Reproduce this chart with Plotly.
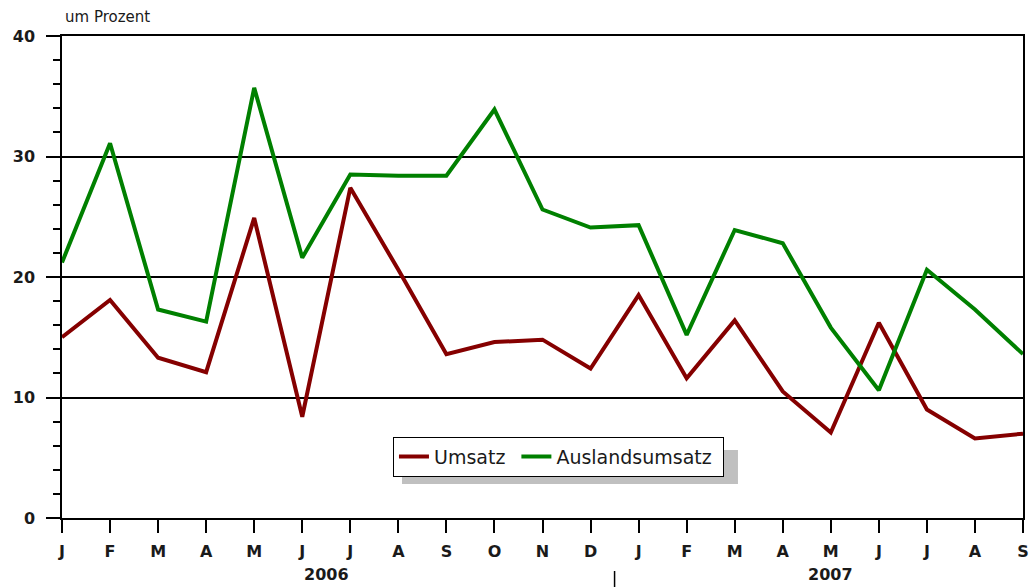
import plotly.graph_objects as go

months = ["J", "F", "M", "A", "M", "J", "J", "A", "S", "O", "N", "D",
          "J", "F", "M", "A", "M", "J", "J", "A", "S"]
umsatz = [15.0, 18.1, 13.3, 12.1, 24.9, 8.4, 27.4, 20.6, 13.6, 14.6, 14.8, 12.4,
          18.5, 11.6, 16.4, 10.5, 7.1, 16.2, 9.0, 6.6, 7.0]
ausland = [21.2, 31.1, 17.3, 16.3, 35.7, 21.6, 28.5, 28.4, 28.4, 33.9, 25.6, 24.1,
           24.3, 15.2, 23.9, 22.8, 15.8, 10.6, 20.6, 17.3, 13.6]
years = ["2006", "2007"]
year_centers = [5.5, 16]
year_split = 11.5
y_ticks = [0, 10, 20, 30, 40]

x = list(range(len(months)))
FONT = "DejaVu Sans"
TXT = "#1a1a1a"

fig = go.Figure()
fig.add_trace(go.Scatter(x=x, y=umsatz, mode="lines", name="Umsatz ",
                         line=dict(color="#850000", width=4)))
fig.add_trace(go.Scatter(x=x, y=ausland, mode="lines", name="Auslandsumsatz ",
                         line=dict(color="#008000", width=4)))

fig.update_layout(
    width=1031, height=587,
    margin=dict(l=62, r=8, t=36, b=69, autoexpand=False),
    paper_bgcolor="white", plot_bgcolor="white",
    font=dict(family=FONT, color=TXT, size=16),
    showlegend=True,
    legend=dict(orientation="h", x=0.3444, y=0.169, xanchor="left", yanchor="top",
                bgcolor="white", bordercolor="black", borderwidth=1,
                font=dict(size=19, family=FONT, color=TXT),
                itemwidth=30, tracegroupgap=0),
    hovermode=False,
)

fig.update_xaxes(
    range=[0, 20], tickmode="array", tickvals=x, ticktext=["<b>%s</b>" % m for m in months],
    ticks="outside", ticklen=13, tickwidth=1.5, tickcolor="black",
    showline=True, linecolor="black", linewidth=1.5, mirror=True,
    showgrid=False, zeroline=False, ticklabelstandoff=5, automargin=False,
    tickfont=dict(size=16, family=FONT, color=TXT),
)
fig.update_yaxes(
    range=[0, 40], tickmode="array", tickvals=y_ticks,
    ticktext=["<b>%d</b>" % v for v in y_ticks],
    ticks="outside", ticklen=14, tickwidth=1.5, tickcolor="black",
    showline=True, linecolor="black", linewidth=1.5, mirror=True,
    showgrid=True, gridcolor="black", gridwidth=1.5, zeroline=False,
    ticklabelstandoff=8, automargin=False,
    tickfont=dict(size=16, family=FONT, color=TXT),
    minor=dict(dtick=2, ticks="outside", ticklen=7, tickwidth=1.5, tickcolor="black", showgrid=False),
)

# legend shadow
fig.add_shape(type="rect", xref="paper", yref="paper",
              x0=0.3538, x1=0.7034, y0=0.0705, y1=0.141,
              fillcolor="#c0c0c0", line=dict(width=0), layer="below")

fig.add_annotation(text="um Prozent", xref="paper", yref="paper", x=0.001, y=1.0,
                   xanchor="left", yanchor="bottom", yshift=8, showarrow=False,
                   font=dict(size=15, family=FONT, color=TXT))

for yr, c in zip(years, year_centers):
    fig.add_annotation(text="<b>%s</b>" % yr, xref="x", yref="paper", x=c, y=-0.118,
                       xanchor="center", yanchor="middle", showarrow=False,
                       font=dict(size=16, family=FONT, color=TXT))

fig.add_shape(type="line", xref="x", yref="paper", x0=year_split, x1=year_split,
              y0=-0.110, y1=-0.146, line=dict(color="black", width=1.5))

fig.write_html("out.html", config={"displayModeBar": False},
               post_script="document.body.style.margin='0';document.body.style.overflow='hidden';")
